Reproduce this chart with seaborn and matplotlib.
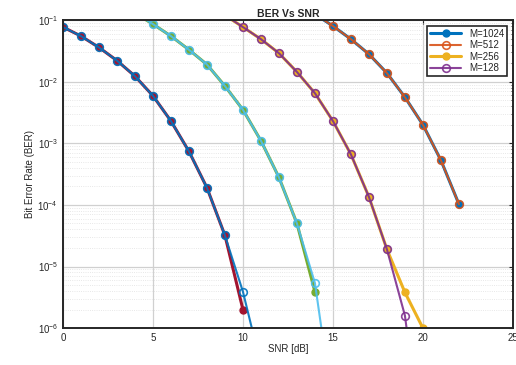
import numpy as np
import pandas as pd
import matplotlib
matplotlib.use('Agg')
import matplotlib.pyplot as plt
import seaborn as sns

# SNR axes (dB) for each pair of curves
snr_hi = [14, 15, 16, 17, 18, 19, 20, 21, 22]
snr_mid = [9, 10, 11, 12, 13, 14, 15, 16, 17, 18, 19, 20]
snr_lo = [4, 5, 6, 7, 8, 9, 10, 11, 12, 13, 14, 15]
snr_min = [0, 1, 2, 3, 4, 5, 6, 7, 8, 9, 10, 11]

# BER values
ber_1024 = [0.125, 0.08, 0.049, 0.028, 0.0138, 0.0056, 0.002, 5.3e-4, 1.03e-4]
ber_512 = [0.125, 0.08, 0.049, 0.028, 0.0138, 0.0056, 0.002, 5.3e-4, 1.03e-4]
ber_256 = [0.12, 0.077, 0.049, 0.029, 0.0144, 0.0065, 0.0023, 6.6e-4, 1.35e-4, 1.9e-5, 3.8e-6, 1.0e-6]
ber_128 = [0.12, 0.077, 0.049, 0.029, 0.0144, 0.0065, 0.0023, 6.6e-4, 1.35e-4, 1.9e-5, 1.6e-6, 1e-8]
ber_g = [0.13, 0.086, 0.055, 0.033, 0.019, 0.0085, 0.0035, 0.0011, 2.8e-4, 5.0e-5, 3.9e-6]
ber_lb = [0.13, 0.086, 0.055, 0.033, 0.019, 0.0085, 0.0035, 0.0011, 2.8e-4, 5.0e-5, 5.4e-6, 5e-8]
ber_r = [0.077, 0.055, 0.036, 0.022, 0.0123, 0.0059, 0.0023, 7.4e-4, 1.9e-4, 3.2e-5, 2e-6]
ber_b = [0.077, 0.055, 0.036, 0.022, 0.0123, 0.0059, 0.0023, 7.4e-4, 1.9e-4, 3.2e-5, 3.9e-6, 2.5e-7]

labels = ['M=1024', 'M=512', 'M=256', 'M=128']

# matlab default colour order
c_blue, c_orange, c_yellow, c_purple = '#0072BD', '#D95319', '#EDB120', '#7E2F8E'
c_green, c_lblue, c_red = '#77AC30', '#4DBEEE', '#A2142F'

series = [
    (snr_hi, ber_1024, c_blue, True, labels[0]),
    (snr_hi, ber_512, c_orange, False, labels[1]),
    (snr_mid, ber_256, c_yellow, True, labels[2]),
    (snr_mid, ber_128, c_purple, False, labels[3]),
    (snr_lo[:len(ber_g)], ber_g, c_green, True, '_nolegend_'),
    (snr_lo, ber_lb, c_lblue, False, '_nolegend_'),
    (snr_min[:len(ber_r)], ber_r, c_red, True, '_nolegend_'),
    (snr_min, ber_b, c_blue, False, '_nolegend_'),
]

sns.set_style('whitegrid')
plt.rcParams['font.family'] = ['Liberation Sans', 'DejaVu Sans']

fig = plt.figure(figsize=(5.16, 3.65), dpi=100)
ax = fig.add_axes([0.122, 0.101, 0.872, 0.844])

for x, y, col, filled, lab in series:
    df = pd.DataFrame({'snr': x, 'ber': y})
    if filled:
        sns.lineplot(data=df, x='snr', y='ber', ax=ax, color=col, lw=2.2,
                     marker='o', ms=5, mew=1.0, mec=col, mfc=col,
                     label=lab, sort=False)
    else:
        sns.lineplot(data=df, x='snr', y='ber', ax=ax, color=col, lw=1.5,
                     alpha=0.9, marker='o', ms=5.5, mew=1.2, mec=col,
                     mfc='none', label=lab, sort=False)

ax.set_yscale('log')
ax.set_xlim(0, 25)
ax.set_ylim(1e-6, 1e-1)
ax.set_xticks([0, 5, 10, 15, 20, 25])

ax.grid(True, which='major', color='#d0d0d0', lw=0.9)
ax.grid(True, which='minor', color='#e0e0e0', lw=0.6, ls=':')
ax.tick_params(which='both', direction='in', top=True, right=True,
               labelsize=7, colors='#262626', length=3)
ax.tick_params(which='minor', length=1.5)
for sp in ax.spines.values():
    sp.set_color('#262626')
    sp.set_linewidth(1.4)

ax.set_title('BER Vs SNR', fontsize=7.5, fontweight='bold', pad=2)
ax.set_xlabel('SNR [dB]', fontsize=7, labelpad=1)
ax.set_ylabel('Bit Error Rate (BER)', fontsize=7, labelpad=2)

leg = ax.legend(loc='upper right', fontsize=7, frameon=True, fancybox=False,
                edgecolor='#262626', framealpha=1, borderpad=0.3,
                handlelength=3.2, labelspacing=0.15, borderaxespad=0.6)
leg.get_frame().set_linewidth(1.2)

fig.savefig('out.png', dpi=100)
